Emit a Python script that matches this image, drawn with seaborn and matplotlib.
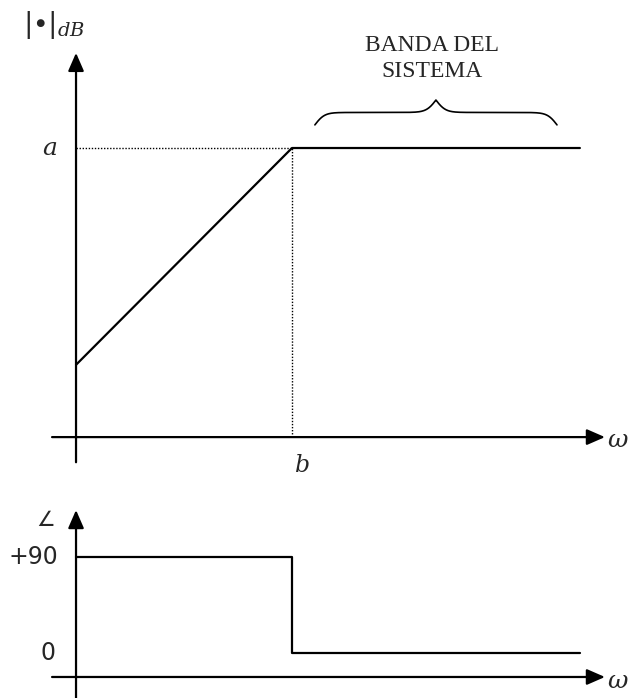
import numpy as np
import pandas as pd
import seaborn as sns
from matplotlib import pyplot as plt

# asymptotic Bode sketch: magnitude rises until b, then flat at a
omega_mag = [0.0, 1.0, 2.333]
mag_db = [0.25, 1.0, 1.0]
# phase: +90 until b, then 0
omega_phase = [0.0, 1.0, 2.333]
phase_deg = [90, 0, 0]
b_val = 1.0
a_val = 1.0
band_lo, band_hi = 1.106, 2.227

sns.set_style('white')

fig = plt.figure(figsize=(6.41, 6.98), dpi=100)
ax_mag = fig.add_axes([0, 208 / 698, 1, 490 / 698])
ax_ph = fig.add_axes([0, 0, 1, 208 / 698])
for ax in (ax_mag, ax_ph):
    ax.set_axis_off()
    ax.set_xlim(-0.352, 2.616)
ax_mag.set_ylim(-0.183, 1.512)
ax_ph.set_ylim(-42.2, 152.8)

arrow = dict(arrowstyle='-|>,head_length=0.55,head_width=0.24', mutation_scale=20,
             color='black', lw=1.6, shrinkA=0, shrinkB=0)

# axes with arrows
ax_mag.annotate('', xy=(0, 1.329), xytext=(0, -0.087), arrowprops=arrow)
ax_mag.annotate('', xy=(2.449, 0), xytext=(-0.111, 0), arrowprops=arrow)
ax_ph.annotate('', xy=(0, 134), xytext=(0, -45), arrowprops=arrow)
ax_ph.annotate('', xy=(2.449, -22.5), xytext=(-0.111, -22.5), arrowprops=arrow)

# magnitude curve
df_mag = pd.DataFrame({'omega': omega_mag, 'mag': mag_db})
sns.lineplot(data=df_mag, x='omega', y='mag', ax=ax_mag, color='black', lw=1.6,
             sort=False, estimator=None)
ax_mag.plot([0, b_val], [a_val, a_val], color='black', lw=1.0, ls=(0, (1, 1.2)))
ax_mag.plot([b_val, b_val], [0, a_val], color='black', lw=1.0, ls=(0, (1, 1.2)))

# phase curve
df_ph = pd.DataFrame({'omega': omega_phase, 'phase': phase_deg})
sns.lineplot(data=df_ph, x='omega', y='phase', ax=ax_ph, color='black', lw=1.6,
             sort=False, estimator=None, drawstyle='steps-post')

# brace over the band
xs = np.linspace(band_lo, band_hi, 401)
half = xs[:201]
beta = 45.0
yh = 1 / (1 + np.exp(-beta * (half - half[0]))) + 1 / (1 + np.exp(-beta * (half - half[-1])))
yb = np.concatenate((yh, yh[-2::-1]))
ax_mag.plot(xs, 1.080 + (yb - 0.5) * 0.086, color='black', lw=1.2)

# labels
serif_it = dict(family='DejaVu Serif', style='italic')
ax_mag.text(-0.10, 1.425, r'$|\!\bullet\!|_{dB}$', ha='center', va='center', fontsize=20,
            math_fontfamily='dejavuserif')
ax_mag.text(-0.09, a_val, 'a', ha='right', va='center', fontsize=18, **serif_it)
ax_mag.text(1.05, -0.097, 'b', ha='center', va='center', fontsize=17, **serif_it)
ax_mag.text(2.46, -0.012, 'ω', ha='left', va='center', fontsize=18, **serif_it)
ax_mag.text(1.648, 1.31, 'BANDA DEL\nSISTEMA', ha='center', va='center', fontsize=17,
            family='Liberation Serif', linespacing=1.3)

ax_ph.text(-0.14, 124.7, '∠', ha='center', va='center', fontsize=15, family='DejaVu Sans')
ax_ph.text(-0.083, 90, '+90', ha='right', va='center', fontsize=17, family='DejaVu Sans')
ax_ph.text(-0.097, 0, '0', ha='right', va='center', fontsize=17, family='DejaVu Sans')
ax_ph.text(2.46, -27, 'ω', ha='left', va='center', fontsize=18, **serif_it)

fig.savefig('out.png', dpi=100)
